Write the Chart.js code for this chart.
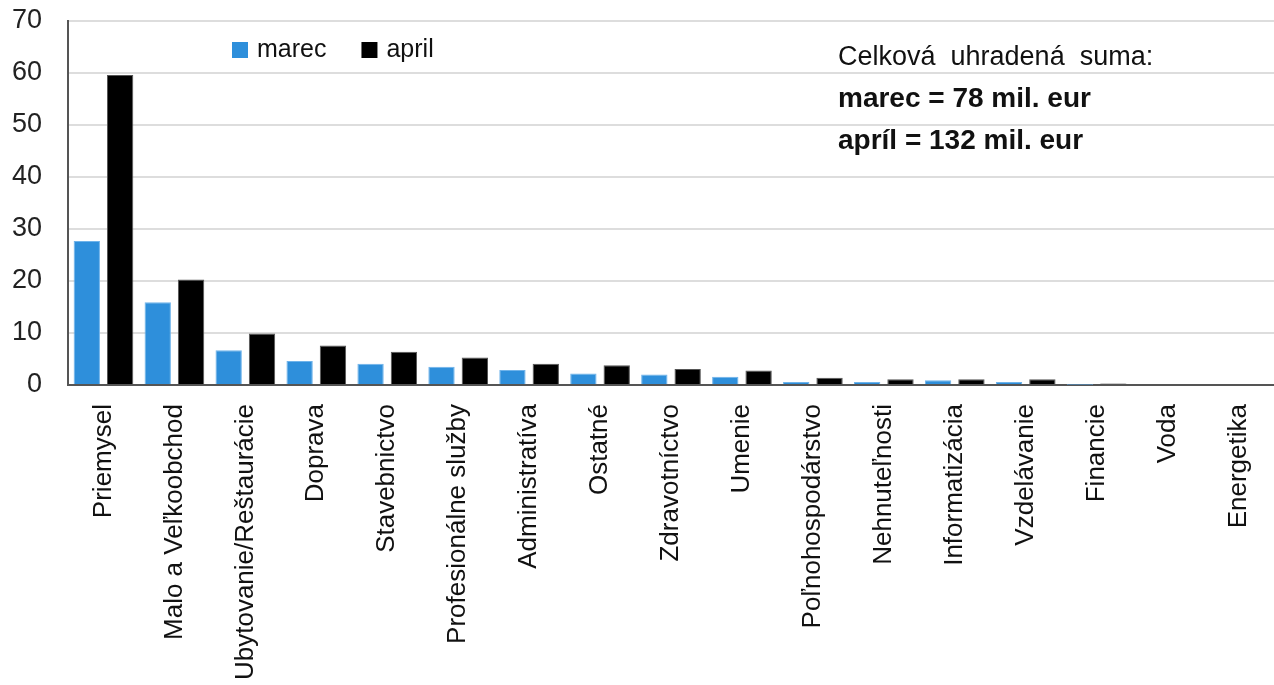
<!DOCTYPE html>
<html>
<head>
<meta charset="utf-8">
<script src="https://cdn.jsdelivr.net/npm/chart.js@4"></script>
<style>
  html, body { margin: 0; padding: 0; background: #fff; }
  #wrap { position: relative; width: 1274px; height: 685px; }
  #note {
    position: absolute; left: 838px; top: 36px;
    font-family: "Liberation Sans", Arial, sans-serif; font-size: 27px; color: #111;
    line-height: 41px; white-space: pre;
  }
  #note b { font-weight: bold; font-size: 28px; }
</style>
</head>
<body>
<div id="wrap">
  <canvas id="c" width="1274" height="685"></canvas>
  <div id="note">Celková  uhradená  suma:<br><b>marec = 78 mil. eur</b><br><b>apríl = 132 mil. eur</b></div>
</div>
<script>
// Sector payments, March vs April (mil. eur)
const categories = ['Priemysel', 'Malo a Veľkoobchod', 'Ubytovanie/Reštaurácie', 'Doprava', 'Stavebnictvo',
  'Profesionálne služby', 'Administratíva', 'Ostatné', 'Zdravotníctvo', 'Umenie', 'Poľnohospodárstvo',
  'Nehnuteľnosti', 'Informatizácia', 'Vzdelávanie', 'Financie', 'Voda', 'Energetika'];
const marec = [27.7, 15.9, 6.7, 4.6, 4.1, 3.5, 2.9, 2.2, 2.0, 1.6, 0.6, 0.6, 0.9, 0.6, 0.05, 0, 0];
const april = [59.6, 20.3, 9.9, 7.6, 6.4, 5.3, 4.1, 3.8, 3.1, 2.8, 1.4, 1.1, 1.1, 1.1, 0.3, 0, 0];
const yTicks = [0, 10, 20, 30, 40, 50, 60, 70];

const FONT = '"Liberation Sans", Arial, sans-serif';

// legend drawn inside the plot, top-left
const innerLegend = {
  id: 'innerLegend',
  afterDraw(chart) {
    const ctx = chart.ctx;
    let x = 232;
    const y = 50;
    ctx.save();
    ctx.font = '25px ' + FONT;
    ctx.textBaseline = 'middle';
    chart.data.datasets.forEach(ds => {
      ctx.fillStyle = ds.backgroundColor;
      ctx.fillRect(x, y - 8, 16, 16);
      ctx.fillStyle = '#111';
      ctx.fillText(ds.label, x + 25, y);
      x += 25 + ctx.measureText(ds.label).width + 35;
    });
    ctx.restore();
  }
};

// drop the extra padding chart.js reserves for labels, keep fixed axis sizes
const noPad = s => { s.paddingLeft = 0; s.paddingRight = 0; s.paddingTop = 0; s.paddingBottom = 0; };

new Chart(document.getElementById('c'), {
  type: 'bar',
  data: {
    labels: categories,
    datasets: [
      { label: 'marec', data: marec, backgroundColor: '#2e8fdb', borderColor: '#6fb3ea', borderWidth: 1 },
      { label: 'april', data: april, backgroundColor: '#000000', borderColor: '#555555', borderWidth: 1 }
    ]
  },
  options: {
    responsive: false,
    animation: false,
    categoryPercentage: 0.94,
    barPercentage: 0.79,
    layout: { padding: { left: 12, top: 21, right: 0, bottom: 0 } },
    plugins: {
      legend: { display: false },
      tooltip: { enabled: false }
    },
    scales: {
      x: {
        afterFit: s => { noPad(s); s.height = 300; },
        grid: { display: false, drawTicks: false },
        border: { color: '#555', width: 2 },
        ticks: {
          autoSkip: false, minRotation: 90, maxRotation: 90, padding: 19,
          color: '#111', font: { family: FONT, size: 26 }
        }
      },
      y: {
        min: 0, max: 70,
        afterBuildTicks: scale => { scale.ticks = yTicks.map(v => ({ value: v })); },
        afterFit: s => { noPad(s); s.width = 56; },
        grid: { color: '#dddddd', lineWidth: 2, drawTicks: false },
        border: { color: '#555', width: 2 },
        ticks: { padding: 26, color: '#222', font: { family: FONT, size: 27 } }
      }
    }
  },
  plugins: [innerLegend]
});
</script>
</body>
</html>
